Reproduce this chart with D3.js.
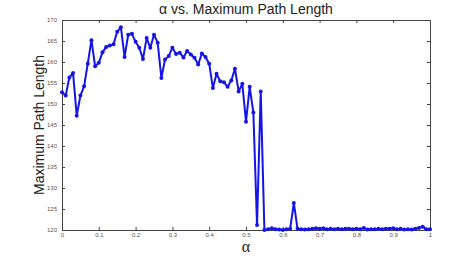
<!DOCTYPE html>
<html>
<head>
<meta charset="utf-8">
<script src="https://cdn.jsdelivr.net/npm/d3@7"></script>
<style>
  body { margin: 0; background: #fff; }
  .tick text { fill: #555; font-size: 6px; font-family: "Liberation Sans", Arial, sans-serif; }
</style>
</head>
<body>
<div id="chart"></div>
<script>
var svgWidth = 474;
var svgHeight = 257;

var margin = { top: 20, right: 44, bottom: 27, left: 62 };
var width = svgWidth - margin.left - margin.right;
var height = svgHeight - margin.top - margin.bottom;

// alpha values 0 .. 1 step 0.01
var alphas = d3.range(0, 101).map(function(i) { return i / 100; });

var pathLength = [
  152.8, 152.0, 156.3, 157.4, 147.2, 152.0, 154.2, 159.6, 165.2, 159.0,
  159.8, 162.3, 163.6, 163.9, 164.2, 167.2, 168.3, 161.2, 166.5, 166.7,
  164.8, 163.4, 160.7, 165.7, 163.4, 166.5, 164.6, 156.2, 160.6, 161.4,
  163.4, 161.9, 162.2, 161.1, 162.6, 161.8, 161.0, 159.4, 162.0, 161.2,
  159.6, 153.8, 157.2, 155.4, 155.2, 154.1, 155.6, 158.4, 153.0, 154.8,
  145.8, 154.1, 148.0, 121.2, 153.0, 120.0, 120.2, 120.4, 120.2, 120.1,
  120.0, 120.2, 120.3, 126.4, 120.3, 120.2, 120.1, 120.2, 120.3, 120.4,
  120.3, 120.4, 120.2, 120.3, 120.2, 120.3, 120.2, 120.3, 120.3, 120.2,
  120.3, 120.2, 120.5, 120.1, 120.2, 120.2, 120.3, 120.2, 120.3, 120.3,
  120.4, 120.2, 120.3, 120.1, 120.2, 120.1, 120.3, 120.5, 120.8, 120.2,
  120.2
];

var xTicks = [0, 0.1, 0.2, 0.3, 0.4, 0.5, 0.6, 0.7, 0.8, 0.9, 1];
var yTicks = [120, 125, 130, 135, 140, 145, 150, 155, 160, 165, 170];

var svg = d3.select("#chart")
  .append("svg")
  .attr("width", svgWidth)
  .attr("height", svgHeight);

var chartGroup = svg.append("g")
  .attr("transform", `translate(${margin.left}, ${margin.top})`);

var x = d3.scaleLinear().domain([0, 1]).range([0, width]);
var y = d3.scaleLinear().domain([120, 170]).range([height, 0]);

var axisColor = "#444";

// bottom and left axes with labels, ticks pointing inward
var bottomAxis = d3.axisBottom(x).tickValues(xTicks).tickSize(-3).tickPadding(3)
  .tickFormat(function(d) { return d === 0 || d === 1 ? d3.format("d")(d) : d3.format(".1f")(d); });
var leftAxis = d3.axisLeft(y).tickValues(yTicks).tickSize(-3).tickPadding(5);

var xAxis = chartGroup.append("g")
  .attr("transform", `translate(0, ${height})`)
  .call(bottomAxis);

var yAxis = chartGroup.append("g")
  .call(leftAxis);

// top and right axes, ticks only
var topAxis = chartGroup.append("g")
  .call(d3.axisTop(x).tickValues(xTicks).tickSize(-3).tickFormat(""));
var rightAxis = chartGroup.append("g")
  .attr("transform", `translate(${width}, 0)`)
  .call(d3.axisRight(y).tickValues(yTicks).tickSize(-3).tickFormat(""));

svg.selectAll(".domain").attr("stroke", axisColor).attr("stroke-width", 1);
svg.selectAll(".tick line").attr("stroke", axisColor);

// the series
var series = alphas.map(function(a, i) { return { a: a, v: pathLength[i] }; });

var line = d3.line()
  .x(d => x(d.a))
  .y(d => y(d.v));

chartGroup.append("path")
  .datum(series)
  .attr("fill", "none")
  .attr("stroke", "#1414e6")
  .attr("stroke-width", 2)
  .attr("stroke-linejoin", "round")
  .attr("d", line);

chartGroup.selectAll("circle")
  .data(series)
  .enter()
  .append("circle")
  .attr("cx", d => x(d.a))
  .attr("cy", d => y(d.v))
  .attr("r", 2)
  .attr("fill", "#1414e6");

// title
svg.append("text")
  .attr("x", margin.left + width / 2)
  .attr("y", 14)
  .attr("text-anchor", "middle")
  .attr("font-family", "Liberation Sans, Arial, sans-serif")
  .attr("font-size", 14)
  .attr("fill", "#222")
  .text("α vs. Maximum Path Length");

// y label
svg.append("text")
  .attr("transform", `translate(44, ${margin.top + height / 2}) rotate(-90)`)
  .attr("text-anchor", "middle")
  .attr("font-family", "Liberation Sans, Arial, sans-serif")
  .attr("font-size", 14)
  .attr("fill", "#222")
  .text("Maximum Path Length");

// x label
svg.append("text")
  .attr("x", margin.left + width / 2)
  .attr("y", 252)
  .attr("text-anchor", "middle")
  .attr("font-family", "Liberation Serif, Times New Roman, serif")
  .attr("font-size", 16)
  .attr("fill", "#222")
  .text("α");
</script>
</body>
</html>
